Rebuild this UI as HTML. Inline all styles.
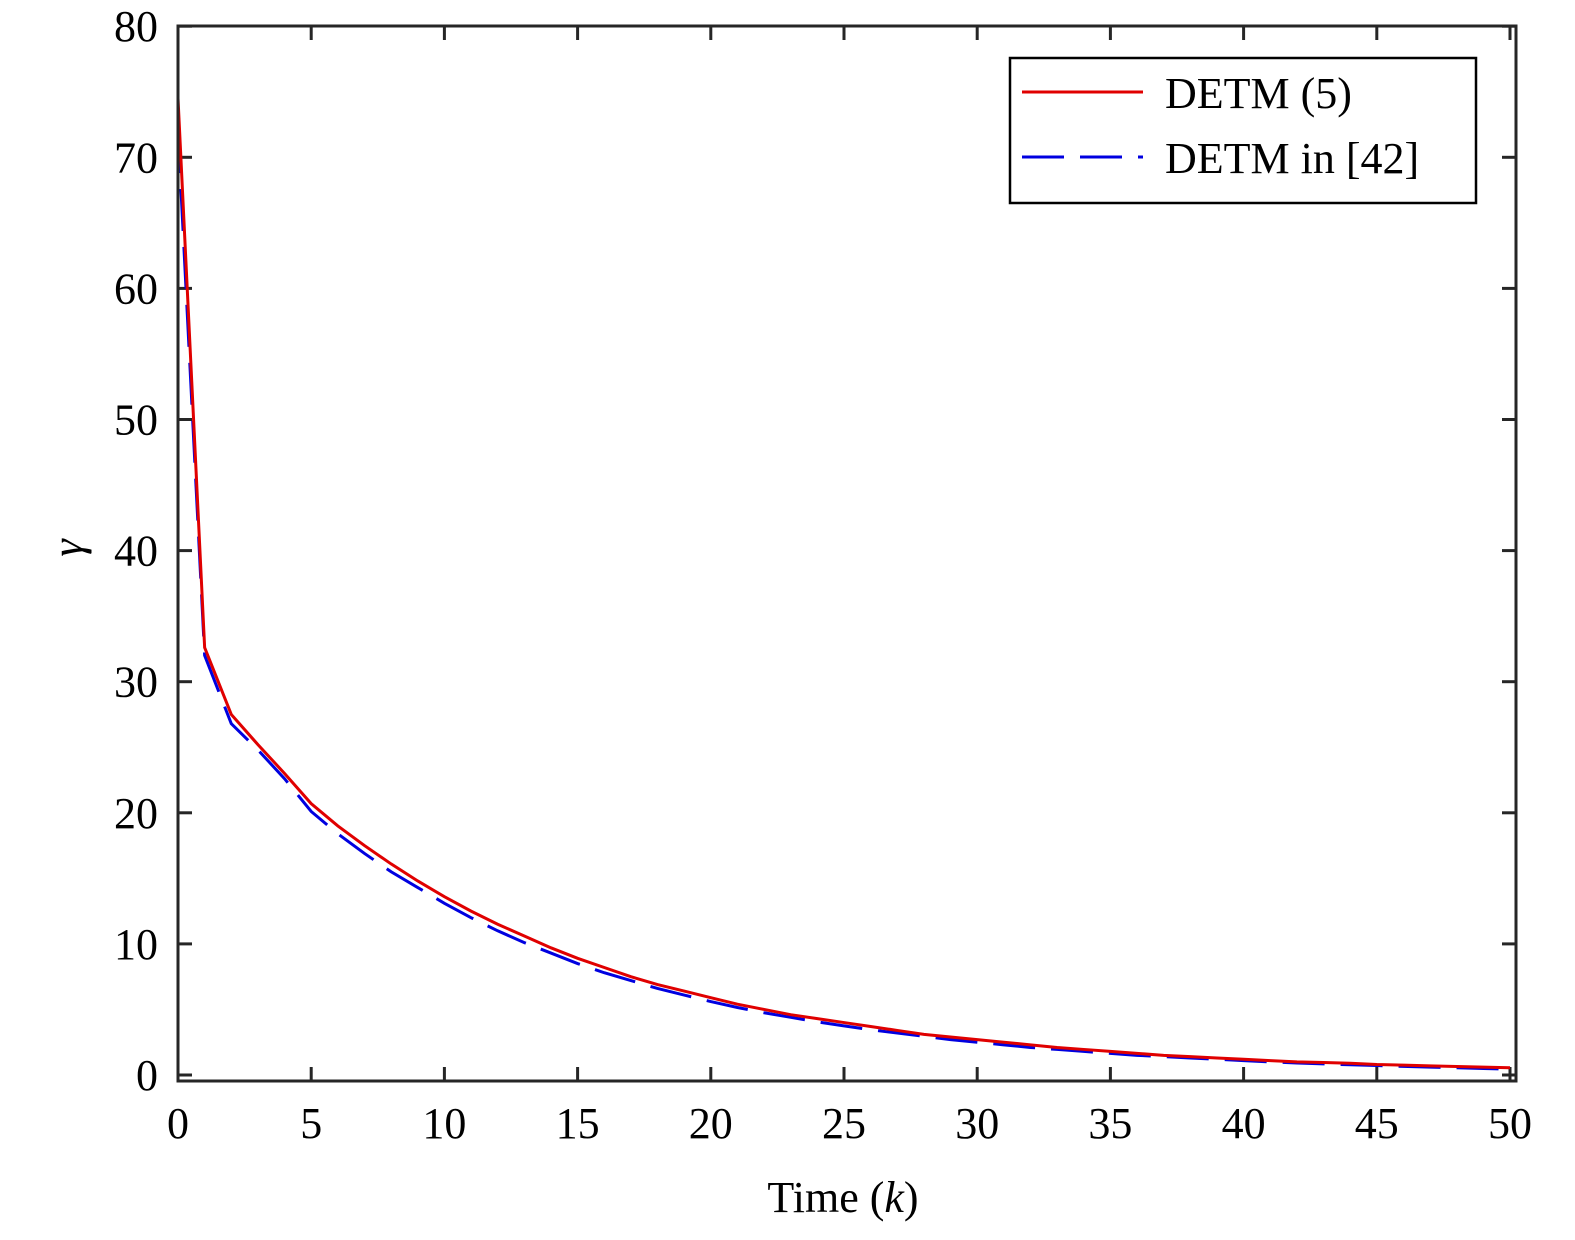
<!DOCTYPE html>
<html><head><meta charset="utf-8"><style>
body{margin:0;background:#fff}
svg text{font-family:"Liberation Serif",serif;fill:#000}
</style></head><body>
<svg width="1575" height="1235" xmlns="http://www.w3.org/2000/svg">
<g id="ticks"></g>
<g id="series"></g>
<rect x="178" y="26" width="1338" height="1055" fill="none" stroke="#262626" stroke-width="3"/>
<text x="843" y="1212" font-size="44" text-anchor="middle">Time (<tspan font-style="italic">k</tspan>)</text>
<text transform="translate(82,548) rotate(-90)" font-size="44" font-style="italic" text-anchor="middle">γ</text>
<g>
<rect x="1010" y="58" width="466" height="145" fill="#fff" stroke="#000" stroke-width="2.5"/>
<line x1="1022" y1="92" x2="1143" y2="92" stroke="#e00000" stroke-width="3"/>
<text x="1165" y="108" font-size="44">DETM (5)</text>
<line x1="1022" y1="157" x2="1143" y2="157" stroke="#0000e0" stroke-width="3" stroke-dasharray="42,16"/>
<text x="1165" y="173" font-size="44">DETM in [42]</text>
</g>
</svg>
<script>
const xTicks=[0,5,10,15,20,25,30,35,40,45,50];
const yTicks=[0,10,20,30,40,50,60,70,80];
const redVals=[74.5,32.6,27.5,25.2,23.0,20.7,19.0,17.5,16.1,14.8,13.6,12.5,11.5,10.6,9.7,8.9,8.2,7.5,6.9,6.4,5.9,5.4,5.0,4.6,4.3,4.0,3.7,3.4,3.1,2.9,2.7,2.5,2.3,2.1,1.95,1.8,1.65,1.5,1.4,1.3,1.2,1.1,1.0,0.95,0.9,0.8,0.75,0.7,0.65,0.6,0.55];
const blueVals=[72.0,32.0,26.8,24.8,22.6,20.1,18.4,16.9,15.5,14.3,13.1,12.0,11.0,10.1,9.3,8.5,7.8,7.2,6.6,6.1,5.6,5.15,4.75,4.4,4.05,3.75,3.45,3.2,2.95,2.7,2.5,2.3,2.1,1.95,1.8,1.65,1.5,1.4,1.3,1.2,1.1,1.0,0.92,0.85,0.78,0.72,0.66,0.6,0.55,0.5,0.45];
const NS="http://www.w3.org/2000/svg";
const X=v=>178+v*26.64, Y=v=>1075-v*13.11;
const tg=document.getElementById('ticks');
function ln(x1,y1,x2,y2){const l=document.createElementNS(NS,'line');l.setAttribute('x1',x1);l.setAttribute('y1',y1);l.setAttribute('x2',x2);l.setAttribute('y2',y2);l.setAttribute('stroke','#262626');l.setAttribute('stroke-width','3');tg.appendChild(l);return l;}
xTicks.forEach(t=>{const x=X(t);
const a=ln(x,1081,x,1067);


const b=ln(x,26,x,40);


const s=document.createElementNS(NS,'text');s.setAttribute('x',x);s.setAttribute('y',1138);s.setAttribute('font-size','44');s.setAttribute('text-anchor','middle');s.textContent=t;


tg.appendChild(s);});
yTicks.forEach(t=>{const y=Y(t);
const a=ln(178,y,192,y);


const b=ln(1516,y,1502,y);


const s=document.createElementNS(NS,'text');s.setAttribute('x',158);s.setAttribute('y',y+15);s.setAttribute('font-size','44');s.setAttribute('text-anchor','end');s.textContent=t;


tg.appendChild(s);});
const sg=document.getElementById('series');
function poly(vals,color,dash,name){const p=document.createElementNS(NS,'polyline');
p.setAttribute('points',vals.map((v,i)=>X(i)+','+Y(v)).join(' '));
p.setAttribute('fill','none');p.setAttribute('stroke',color);p.setAttribute('stroke-width','3');
if(dash)p.setAttribute('stroke-dasharray',dash);
sg.appendChild(p);return p;}
const r=poly(redVals,'#e00000',null);


const b=poly(blueVals,'#0000e0','42,16');


sg.insertBefore(b,r);
</script>
</body></html>
